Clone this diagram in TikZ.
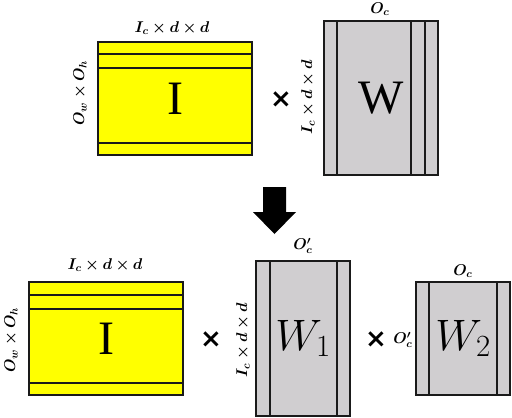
\RequirePackage{fix-cm}
\documentclass[tikz,border=0pt]{standalone}
\usepackage{amsmath,amssymb,bm}
\usepackage{fontspec}
\newfontfamily\letterfont{Liberation Serif}
\newfontfamily\crossfont{DejaVu Sans}
\usepackage{tikz}
\usetikzlibrary{positioning,calc}
\definecolor{matyellow}{HTML}{FFFF00}
\definecolor{matgray}{HTML}{D0CED0}
\definecolor{matedge}{HTML}{1A1A1A}

\begin{document}
\begin{tikzpicture}[x=1pt, y=-1pt,
    mat/.style={draw=matedge, line width=1.6pt, inner sep=0pt},
    inmat/.style={mat, fill=matyellow, minimum width=154pt, minimum height=113pt,
        font=\letterfont\fontsize{48}{48}\selectfont},
    wmat/.style={mat, fill=matgray, font=\letterfont\fontsize{48}{48}\selectfont},
    wfact/.style={mat, fill=matgray, minimum width=94pt, font=\fontsize{44}{44}\selectfont},
    strip/.style={draw=matedge, line width=1.6pt},
    dimlabel/.style={font=\fontsize{15}{17}\selectfont, inner sep=1pt, scale=1.04, transform shape},
    times/.style={font=\crossfont\bfseries\fontsize{26}{26}\selectfont, inner sep=0pt}
]
    \useasboundingbox (0,0) rectangle (512,418);

    % Top row: I x W
    \node[inmat] (inTop) at (175,98.5) {I};
    \draw[strip] ($(inTop.north west)+(0,13)$) -- ($(inTop.north east)+(0,13)$);
    \draw[strip] ($(inTop.north west)+(0,27)$) -- ($(inTop.north east)+(0,27)$);
    \draw[strip] ($(inTop.south west)+(0,-13)$) -- ($(inTop.south east)+(0,-13)$);
    \node[dimlabel] (inTopCols) at (172,28) {$\bm{I_c \times d \times d}$};
    \node[dimlabel, rotate=90] (inTopRows) at (80,93) {$\bm{O_w \times O_h}$};

    \node[times] (timesTop) at (281,100) {×};

    \node[wmat, minimum width=114pt, minimum height=154pt] (wTop) at (381,98) {W};
    \draw[strip] ($(wTop.north west)+(14,0)$) -- ($(wTop.south west)+(14,0)$);
    \draw[strip] ($(wTop.north east)+(-28,0)$) -- ($(wTop.south east)+(-28,0)$);
    \draw[strip] ($(wTop.north east)+(-14,0)$) -- ($(wTop.south east)+(-14,0)$);
    \node[dimlabel] (wTopCols) at (380,9) {$\bm{O_c}$};
    \node[dimlabel, rotate=90] (wTopRows) at (308,97) {$\bm{I_c \times d \times d}$};

    % Arrow down
    \fill[black] (263,187) -- (286,187) -- (286,212) -- (296,212) -- (274.5,234)
        -- (253,212) -- (263,212) -- cycle;

    % Bottom row: I x W1 x W2
    \node[inmat] (inBot) at (106,338.5) {I};
    \draw[strip] ($(inBot.north west)+(0,14)$) -- ($(inBot.north east)+(0,14)$);
    \draw[strip] ($(inBot.north west)+(0,28)$) -- ($(inBot.north east)+(0,28)$);
    \draw[strip] ($(inBot.south west)+(0,-13)$) -- ($(inBot.south east)+(0,-13)$);
    \node[dimlabel] (inBotCols) at (105,265) {$\bm{I_c \times d \times d}$};
    \node[dimlabel, rotate=90] (inBotRows) at (11,340) {$\bm{O_w \times O_h}$};

    \node[times] (timesBotA) at (211,340) {×};

    \node[wfact, minimum height=155pt] (wOne) at (303,338.5) {$W_1$};
    \draw[strip] ($(wOne.north west)+(15,0)$) -- ($(wOne.south west)+(15,0)$);
    \draw[strip] ($(wOne.north east)+(-14,0)$) -- ($(wOne.south east)+(-14,0)$);
    \node[dimlabel] (wOneCols) at (303,246) {$\bm{O'_c}$};
    \node[dimlabel, rotate=90] (wOneRows) at (243,340) {$\bm{I_c \times d \times d}$};

    \node[times] (timesBotB) at (376,340) {×};

    \node[wfact, minimum height=113pt] (wTwo) at (463,338.5) {$W_2$};
    \draw[strip] ($(wTwo.north west)+(14,0)$) -- ($(wTwo.south west)+(14,0)$);
    \draw[strip] ($(wTwo.north east)+(-14,0)$) -- ($(wTwo.south east)+(-14,0)$);
    \node[dimlabel] (wTwoCols) at (463,271) {$\bm{O_c}$};
    \node[dimlabel] (wTwoRows) at (403,340) {$\bm{O'_c}$};
\end{tikzpicture}
\end{document}
